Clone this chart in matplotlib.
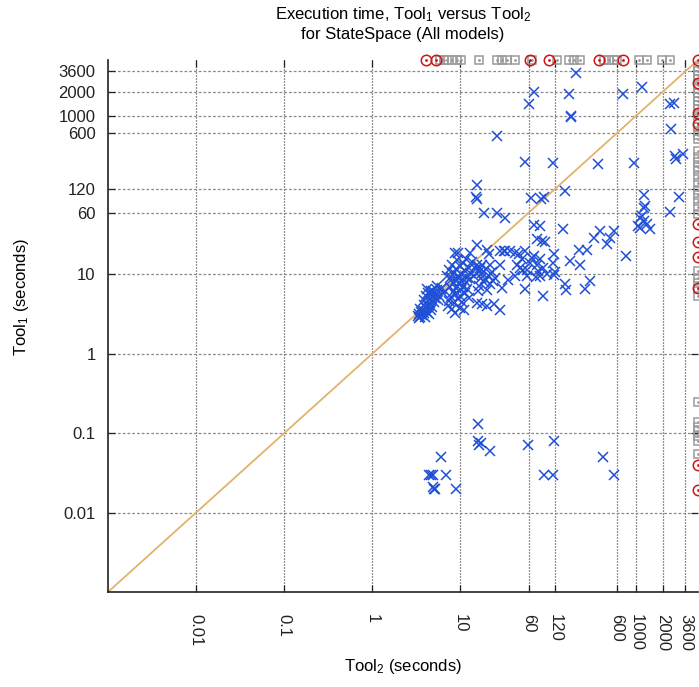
import matplotlib
matplotlib.use("Agg")
import matplotlib.pyplot as plt

plt.rcParams["font.family"] = ["Liberation Sans", "DejaVu Sans"]
plt.rcParams["mathtext.fontset"] = "custom"
plt.rcParams["mathtext.rm"] = "Liberation Sans"
plt.rcParams["mathtext.it"] = "Liberation Sans:italic"

# ---------- data (seconds) ----------
TIMEOUT = 5000  # runs that did not finish are drawn on the border

tick_vals = [0.01, 0.1, 1, 10, 60, 120, 600, 1000, 2000, 3600]
tick_labels = ["0.01", "0.1", "1", "10", "60", "120", "600", "1000", "2000", "3600"]

# both tools finished: (Tool2, Tool1)
solved = [
    # low group
    (16, 0.13), (16, 0.08), (16.5, 0.07), (17, 0.075), (22, 0.06), (58, 0.07),
    (117, 0.08), (420, 0.05), (6.1, 0.05), (4.4, 0.03), (4.6, 0.03), (4.9, 0.03),
    (6.9, 0.03), (5.0, 0.02), (5.2, 0.02), (4.9, 0.021), (9.0, 0.02), (90, 0.03),
    (113, 0.03), (552, 0.03),
    # upper sparse
    (206, 3400), (68, 2000), (60, 1400), (172, 1850), (180, 980), (183, 960),
    (700, 1850), (1160, 2260), (2430, 1380), (2650, 1440), (2500, 670), (26, 550),
    (55, 260), (113, 255), (363, 245), (950, 250), (2720, 305), (3400, 330),
    (2800, 280), (15.4, 135), (15.2, 95), (15.6, 90), (63.6, 92), (82.7, 89),
    (90, 94), (153, 112), (1210, 99), (1250, 72), (1230, 69), (3050, 95),
    # middle band
    (26, 58.5), (32.4, 51.6), (18.4, 58.5), (68, 41.3), (81, 40.3), (145, 37),
    (1160, 54), (1100, 51), (1210, 47), (1320, 43), (1040, 40.5), (1110, 38.6),
    (1440, 36.7), (2430, 60.7), (74, 28), (84, 26), (92, 25.4), (327, 28.9),
    (390, 35), (465, 23.8), (507, 28.9), (553, 35), (225, 20.2), (275, 20.2),
    (230, 13.3), (178, 14.7), (300, 8.2), (263, 6.6), (156, 7.5), (160, 6.3),
    (770, 17),
    (117, 17.8), (113, 14), (120, 10.7), (117, 9.7), (68, 17), (81, 15.4),
    (74, 13.3), (77, 11), (57, 11.5), (57, 9.5), (88, 12.1), (96, 10), (81, 9.5),
    (73, 9.3), (46, 17.8), (50, 15.4), (44, 13.3), (48, 12.1), (52, 11.5),
    (42, 9.5), (62, 14), (65, 16), (28.5, 19.6), (32.5, 19.6), (37, 19.6),
    (42, 18.7), (55, 19.6), (35, 8.6), (30, 6.8), (55, 6.45), (87, 5.3),
    # dense cluster
    (3.3, 3.0), (3.4, 3.2), (3.5, 2.9), (3.6, 3.4), (3.7, 3.1), (3.8, 3.6),
    (3.9, 3.3), (4.0, 2.9), (4.1, 3.8), (4.2, 3.4), (4.3, 4.0), (4.4, 3.2),
    (3.5, 3.7), (3.4, 2.8), (4.6, 3.6), (4.8, 3.9), (3.9, 4.1), (4.5, 4.3),
    (3.9, 4.8), (4.1, 5.3), (4.3, 5.8), (4.5, 4.9), (4.7, 5.5), (4.9, 6.1),
    (5.1, 5.0), (5.3, 5.7), (5.5, 6.3), (4.2, 6.5), (5.8, 5.3), (6.0, 6.6),
    (5.0, 4.5), (4.6, 6.2), (5.6, 4.7), (6.3, 5.9), (5.4, 7.1), (6.2, 6.8),
    (7.2, 4.0), (7.5, 4.6), (7.8, 5.2), (8.0, 3.7), (8.3, 6.0), (8.5, 4.3),
    (8.8, 5.6), (9.0, 6.8), (9.3, 4.9), (9.6, 7.5), (9.9, 5.3), (10.2, 6.3),
    (10.5, 4.5), (10.8, 7.0), (11.2, 5.8), (11.6, 8.0), (7.6, 6.9), (8.2, 7.8),
    (9.1, 8.4), (10.0, 3.8), (11.0, 3.6), (8.7, 3.3), (12.0, 6.6), (12.5, 5.0),
    (7.9, 8.6), (7.1, 9.5),
    (7.8, 9.2), (8.4, 10.5), (8.9, 11.8), (9.4, 9.6), (9.8, 12.8), (10.3, 10.2),
    (10.7, 13.7), (11.3, 11.0), (11.8, 9.0), (12.4, 12.0), (13.0, 10.4),
    (13.6, 14.2), (14.2, 9.6), (14.9, 11.6), (8.1, 13.3), (9.2, 15.0),
    (10.1, 8.3), (12.8, 8.7), (15.5, 13.0), (11.5, 15.5), (7.4, 11.3),
    (16.2, 7.2), (17.0, 9.1), (17.8, 10.4), (18.5, 7.9), (19.3, 8.7),
    (20.1, 6.4), (21.0, 9.6), (21.8, 7.5), (22.9, 10.6), (23.8, 8.2),
    (16.8, 11.0), (19.8, 11.7), (15.8, 6.2),
    (8.8, 18.7), (9.5, 18.7), (13, 18.7), (15.5, 23.7), (20, 20.5), (21, 17.8),
    (31, 19.6), (17.6, 13.3), (22, 13.3), (28.5, 13.3), (25, 9), (16.9, 12.1),
    (17.6, 4.2), (20, 4.0), (24, 4.2), (28.5, 3.6), (15.5, 4.4),
]
solved_x = [p[0] for p in solved]
solved_y = [p[1] for p in solved]

# Tool1 did not finish (top border): Tool2 times
top_red_x = [4.1, 5.3, 62, 103, 380, 706, TIMEOUT]
top_gray_x = [5.9, 6.45, 7.1, 8.0, 9.2, 10.3, 16.4, 26, 29.8, 34, 42, 65, 126,
              170, 194, 231, 425, 484, 552, 603, 1060, 1325, 1960, 2430]

# Tool2 did not finish (right border): Tool1 times
right_red_y = [2590, 1085, 773, 42.6, 25.2, 16.3, 6.8, 0.040, 0.0195]
right_gray_y = [4035, 3600, 3210, 2860, 2400, 2140, 1900, 1695, 1510, 1345,
                1200, 1005, 895, 710, 632, 563, 500, 353, 297, 257, 222, 198,
                166, 140, 117, 99, 83, 70, 58, 10.9, 9.1, 7.7, 6.5, 5.4, 0.25,
                0.14, 0.121, 0.105, 0.091, 0.0786, 0.054]


def border_marks(ax, xs, ys, color, marker, ms, z):
    # open marker with a small dot in the middle, drawn over the frame
    ax.plot(xs, ys, ls="none", marker=marker, ms=ms, mfc="none", mec=color,
            mew=1.1, clip_on=False, zorder=z)
    ax.plot(xs, ys, ls="none", marker=".", ms=2, color=color,
            clip_on=False, zorder=z)


# ---------- figure ----------
fig = plt.figure(figsize=(6.99, 6.87), dpi=100)
ax = fig.add_axes([108 / 699, 95 / 687, 590 / 699, 532 / 687])
ax.set_xscale("log")
ax.set_yscale("log")
ax.set_xlim(0.001, TIMEOUT)
ax.set_ylim(0.001, TIMEOUT)

ax.plot([0.001, TIMEOUT], [0.001, TIMEOUT], color="#e3b26c", lw=1.3, zorder=2)

ax.plot(solved_x, solved_y, ls="none", marker="x", ms=7, mew=1.1,
        color="#1f4fd6", zorder=3)

red = "#cc1414"
gray = "#9a9a9a"
border_marks(ax, top_gray_x, [TIMEOUT] * len(top_gray_x), gray, "s", 5.5, 4)
border_marks(ax, [TIMEOUT] * len(right_gray_y), right_gray_y, gray, "s", 5.5, 4)
border_marks(ax, top_red_x, [TIMEOUT] * len(top_red_x), red, "o", 7.5, 5)
border_marks(ax, [TIMEOUT] * len(right_red_y), right_red_y, red, "o", 7.5, 5)

# ---------- axes styling ----------
ax.set_xticks(tick_vals)
ax.set_xticklabels(tick_labels, rotation=-90, ha="center", va="top")
ax.set_yticks(tick_vals)
ax.set_yticklabels(tick_labels)
ax.minorticks_off()
ax.tick_params(axis="both", direction="in", length=5, width=0.9, labelsize=12,
               colors="#222222", top=True, right=True)
ax.tick_params(axis="x", pad=16)
ax.tick_params(axis="y", pad=9)

ax.yaxis.grid(True, color="#8a8a8a", ls=(0, (2.2, 1.6)), lw=0.9)
ax.xaxis.grid(True, color="#222222", ls=(0, (0.8, 1.6)), lw=0.9)
ax.set_axisbelow(True)

for side in ("top", "right"):
    ax.spines[side].set_visible(False)
for side in ("left", "bottom"):
    ax.spines[side].set_linewidth(1.2)
    ax.spines[side].set_color("#222222")

# ---------- texts ----------
fig.text(403 / 699, 1 - 15 / 687, r"Execution time, Tool$_1$ versus Tool$_2$",
         ha="center", va="center", fontsize=12)
fig.text(403 / 699, 1 - 35 / 687, "for StateSpace (All models)",
         ha="center", va="center", fontsize=12)
fig.text(403 / 699, 1 - 667 / 687, r"Tool$_2$ (seconds)",
         ha="center", va="center", fontsize=12)
fig.text(22 / 699, 1 - 297 / 687, r"Tool$_1$ (seconds)",
         ha="center", va="center", rotation=90, fontsize=12)

fig.savefig("out.png", dpi=100)
